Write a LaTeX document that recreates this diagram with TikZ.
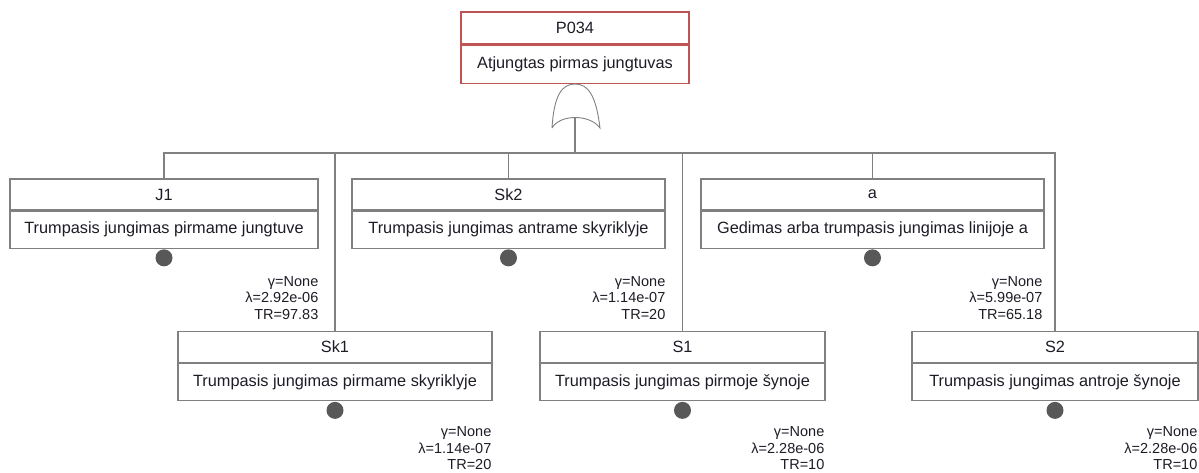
\documentclass[tikz,border=0pt]{standalone}
\usepackage{fontspec}
\setmainfont{Liberation Sans}
\usetikzlibrary{positioning,calc}

\definecolor{linegray}{RGB}{128,128,128}
\definecolor{topred}{RGB}{192,84,84}
\definecolor{dotgray}{RGB}{88,88,88}
\definecolor{txt}{RGB}{28,28,38}

\tikzset{
  ttl/.style={draw=linegray, line width=1.1, minimum height=31, inner sep=0,
    text=txt, font=\fontsize{16.3}{19}\selectfont},
  dsc/.style={ttl, minimum height=37, anchor=north},
  ball/.style={circle, fill=dotgray, minimum size=17, inner sep=0},
  prm/.style={anchor=east, align=right, inner sep=0, text=txt,
    font=\fontsize{14.5}{16.5}\selectfont},
  wire/.style={draw=linegray, line width=1.3},
}

\begin{document}
\begin{tikzpicture}[x=1pt,y=-1pt]
\useasboundingbox (0,0) rectangle (1199,472);

% top event
\node[ttl, draw=topred, minimum width=228, minimum height=32] (P034) at (575,28) {P034};
\node[dsc, draw=topred, minimum width=228, minimum height=38] (P034d) at (P034.south) {Atjungtas pirmas jungtuvas};

% OR gate
\coordinate (gate) at (575,117.5);
\coordinate (bus) at (575,153);
\draw[linegray, line width=0.9] (552,128) .. controls (554,95) and (562,84) .. (575,84)
  .. controls (588,84) and (596,95) .. (600,128)
  .. controls (590,114) and (560,114) .. (552,128);
\draw[wire] (gate) -- (bus);

% upper row
\node[ttl, minimum width=308] (J1) at (164,194.5) {J1};
\node[dsc, minimum width=308] (J1d) at (J1.south) {Trumpasis jungimas pirmame jungtuve};
\node[ttl, minimum width=313] (Sk2) at (508.5,194.5) {Sk2};
\node[dsc, minimum width=313] (Sk2d) at (Sk2.south) {Trumpasis jungimas antrame skyriklyje};
\node[ttl, minimum width=343] (a) at (872.5,194.5) {a};
\node[dsc, minimum width=343] (ad) at (a.south) {Gedimas arba trumpasis jungimas linijoje a};

% lower row
\node[ttl, minimum width=314] (Sk1) at (335,347) {Sk1};
\node[dsc, minimum width=314] (Sk1d) at (Sk1.south) {Trumpasis jungimas pirmame skyriklyje};
\node[ttl, minimum width=285] (S1) at (682.5,347) {S1};
\node[dsc, minimum width=285] (S1d) at (S1.south) {Trumpasis jungimas pirmoje šynoje};
\node[ttl, minimum width=286] (S2) at (1055,347) {S2};
\node[dsc, minimum width=286] (S2d) at (S2.south) {Trumpasis jungimas antroje šynoje};

% connectors to the gate
\draw[wire] (J1.north) |- (bus);
\draw[wire] (Sk1.north) |- (bus);
\draw[wire] (Sk2.north) |- (bus);
\draw[wire] (S1.north) |- (bus);
\draw[wire] (a.north) |- (bus);
\draw[wire] (S2.north) |- (bus);

% basic event marks
\node[ball, below=0.5pt of J1d] (J1c) {};
\node[ball, below=0.5pt of Sk2d] (Sk2c) {};
\node[ball, below=0.5pt of ad] (ac) {};
\node[ball, below=0.5pt of Sk1d] (Sk1c) {};
\node[ball, below=0.5pt of S1d] (S1c) {};
\node[ball, below=0.5pt of S2d] (S2c) {};

% parameters
\node[prm] (J1p) at ($(J1d.south east)+(0,49)$) {γ=None\\λ=2.92e-06\\TR=97.83};
\node[prm] (Sk2p) at ($(Sk2d.south east)+(0,49)$) {γ=None\\λ=1.14e-07\\TR=20};
\node[prm] (ap) at ($(ad.south east)+(-2,49)$) {γ=None\\λ=5.99e-07\\TR=65.18};
\node[prm] (Sk1p) at ($(Sk1d.south east)+(-1,47)$) {γ=None\\λ=1.14e-07\\TR=20};
\node[prm] (S1p) at ($(S1d.south east)+(-1,47)$) {γ=None\\λ=2.28e-06\\TR=10};
\node[prm] (S2p) at ($(S2d.south east)+(-1,47)$) {γ=None\\λ=2.28e-06\\TR=10};
\end{tikzpicture}
\end{document}
